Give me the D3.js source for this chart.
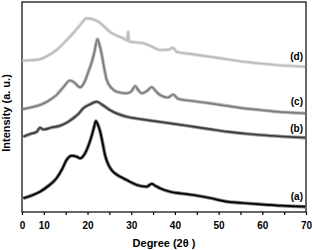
<!DOCTYPE html>
<html>
<head>
<meta charset="utf-8">
<script src="https://cdn.jsdelivr.net/npm/d3@7"></script>
<style>
  html, body { margin: 0; padding: 0; background: #fff; }
  svg { display: block; font-family: "Liberation Sans", Arial, sans-serif; }
  .tick text { font-weight: bold; font-size: 10px; }
</style>
</head>
<body>
<svg id="chart" width="312" height="250"></svg>
<script>
(function () {
  "use strict";

  // 2theta (deg), intensity (a.u., patterns offset as in the figure)
  const patternA = [
    [5.3, 13.7], [7.2, 16.5], [9.1, 20.3], [11, 26], [12.9, 33.7], [14.2, 43], [15.2, 52], [16.4, 56.3],
    [17.4, 55.5], [18.3, 53.7], [19.2, 57], [19.8, 62], [20.5, 70], [21.0, 77], [21.5, 85], [21.9, 91],
    [22.4, 87], [22.9, 80.3], [23.5, 68], [24.0, 57], [24.7, 48], [25.5, 42], [26.8, 37], [28.2, 33.7],
    [29.8, 30], [31.3, 27], [33.5, 25.3], [34.7, 28.2], [35.6, 26], [36.6, 23.7], [38.9, 20.3],
    [41.5, 18.5], [44.2, 17], [48, 14], [51.9, 10.3], [55.5, 9], [59.5, 7.7], [64.5, 6.3], [69.8, 5.3]
  ];
  const patternB = [
    [5.3, 75.3], [6.9, 78], [8.4, 80.3], [9.1, 84.3], [9.9, 82.5], [11.8, 84.5], [13.7, 86.3], [15.3, 89.5],
    [16.7, 93.7], [18, 98.5], [19.0, 103.7], [20.5, 107.5], [22.1, 110.3], [23.6, 106.5], [25.1, 102],
    [27, 98], [29.0, 95.3], [31.2, 93.5], [33.5, 92], [36.2, 90.3], [38.9, 88.7], [44.2, 85.3],
    [48, 82.8], [51.9, 80.3], [55.7, 78.5], [59.5, 77], [64.5, 75.5], [69.8, 74.3]
  ];
  const patternC = [
    [5.0, 102.7], [7, 104.5], [9.1, 107], [11, 111], [12.9, 117], [14.5, 125], [16.0, 131.5], [16.9, 129.8],
    [18.3, 124.7], [19.3, 130], [20.2, 140.3], [20.9, 149], [21.5, 158.7], [22.3, 173], [22.8, 166],
    [23.2, 158.7], [23.8, 144], [24.4, 132], [25.5, 124], [26.7, 120.3], [29.0, 118.7], [30.1, 121],
    [30.9, 126], [31.6, 122], [32.4, 118.7], [33.6, 121], [34.7, 125], [35.6, 121], [36.6, 117],
    [38.4, 114.5], [39.6, 117.5], [40.7, 113.3], [44, 111], [48.0, 108.7], [51.8, 106.2], [55.7, 103.7],
    [59.5, 102], [63.3, 100.3], [69.8, 98.7]
  ];
  const patternD = [
    [5.0, 151.3], [7, 151.8], [9.1, 152.7], [11, 156.5], [12.9, 162], [14.8, 170], [16.7, 178.7],
    [18.3, 187], [19.8, 193.7], [21.0, 193], [22.5, 190.3], [23.8, 185.5], [25.1, 180.3], [26.6, 176.5],
    [28.2, 173.7], [29.1, 171.5], [29.3, 180.5], [29.5, 171], [29.7, 170.3], [31.2, 169.5], [32.8, 168.7],
    [34.7, 165.5], [36.6, 162], [38.5, 162.3], [39.5, 164.3], [40.4, 160.3], [44, 157.8], [48.0, 155.3],
    [51.8, 152.8], [55.7, 150.3], [59.5, 148.5], [63.3, 147], [69.8, 145.3]
  ];

  const seriesNames = ["(a)", "(b)", "(c)", "(d)"];
  const seriesData = [patternA, patternB, patternC, patternD];
  const seriesColors = ["#000000", "#3c3c3c", "#7d7d7d", "#bcbcbc"];
  const labelY = [12, 80, 107, 152];

  const xTickValues = [5, 10, 15, 20, 25, 30, 35, 40, 45, 50, 55, 60, 65, 70];
  const xTickLabels = ["0", "10", "", "20", "", "30", "", "40", "", "50", "", "60", "", "70"];

  const svg = d3.select("#chart");
  const m = { left: 22, right: 306, top: 2, bottom: 212 };

  const x = d3.scaleLinear().domain([5, 70]).range([m.left, m.right]);
  const y = d3.scaleLinear().domain([0, 210]).range([m.bottom, m.top]);

  // frame
  svg.append("rect")
    .attr("x", m.left).attr("y", m.top)
    .attr("width", m.right - m.left).attr("height", m.bottom - m.top)
    .attr("fill", "none").attr("stroke", "#000").attr("stroke-width", 1.2);

  const xAxis = d3.axisBottom(x)
    .tickValues(xTickValues)
    .tickFormat((d, i) => xTickLabels[i])
    .tickSize(3)
    .tickPadding(7);

  svg.append("g")
    .attr("transform", `translate(0,${m.bottom})`)
    .call(xAxis)
    .call((g) => g.select(".domain").remove())
    .call((g) => g.selectAll(".tick line").attr("stroke-width", 1.2));

  const line = d3.line()
    .x((d) => x(d[0]))
    .y((d) => y(d[1]))
    .curve(d3.curveMonotoneX);

  // soft wide band under each trace, like the noisy band of the scan
  svg.append("g").selectAll("path")
    .data(seriesData)
    .join("path")
    .attr("d", line)
    .attr("fill", "none")
    .attr("stroke", (d, i) => seriesColors[i])
    .attr("stroke-opacity", 0.5)
    .attr("stroke-width", 3.6)
    .attr("stroke-linejoin", "round");

  svg.append("g").selectAll("path")
    .data(seriesData)
    .join("path")
    .attr("d", line)
    .attr("fill", "none")
    .attr("stroke", (d, i) => seriesColors[i])
    .attr("stroke-width", 1.7)
    .attr("stroke-linejoin", "round");

  svg.append("g").selectAll("text")
    .data(seriesNames)
    .join("text")
    .attr("x", 303)
    .attr("y", (d, i) => y(labelY[i]))
    .attr("text-anchor", "end")
    .attr("font-size", 10)
    .attr("font-weight", "bold")
    .text((d) => d);

  svg.append("text")
    .attr("x", 164)
    .attr("y", 247)
    .attr("text-anchor", "middle")
    .attr("font-size", 11)
    .attr("font-weight", "bold")
    .text("Degree (2θ )");

  svg.append("text")
    .attr("transform", "translate(10,113) rotate(-90)")
    .attr("text-anchor", "middle")
    .attr("font-size", 11)
    .attr("font-weight", "bold")
    .text("Intensity (a. u.)");
})();
</script>
</body>
</html>
